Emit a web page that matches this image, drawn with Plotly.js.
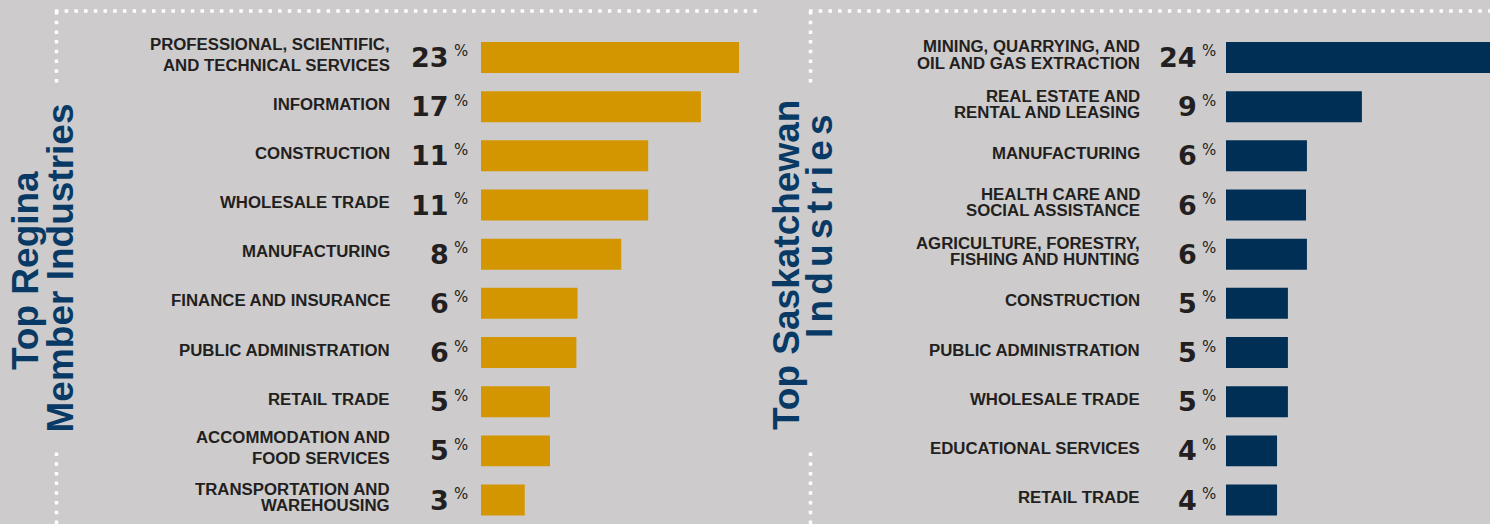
<!DOCTYPE html>
<html><head><meta charset="utf-8">
<script src="https://cdn.plot.ly/plotly-3.0.1.min.js"></script>
<style>html,body{margin:0;padding:0;background:#cdcbcc;overflow:hidden}#chart{width:1490px;height:524px;}</style>
</head><body><div id="chart"></div>
<script>
// ---------- DATA ----------
const reginaLabels = [
  "PROFESSIONAL, SCIENTIFIC,<br>AND TECHNICAL SERVICES",
  "INFORMATION",
  "CONSTRUCTION",
  "WHOLESALE TRADE",
  "MANUFACTURING",
  "FINANCE AND INSURANCE",
  "PUBLIC ADMINISTRATION",
  "RETAIL TRADE",
  "ACCOMMODATION AND<br>FOOD SERVICES",
  "TRANSPORTATION AND<br>WAREHOUSING"
];
const reginaPct = [23, 17, 11, 11, 8, 6, 6, 5, 5, 3];
// bar lengths as drawn in the picture (left-panel scale)
const reginaBar = [23, 19.6, 14.9, 14.9, 12.5, 8.6, 8.5, 6.15, 6.15, 3.9];

const saskLabels = [
  "MINING, QUARRYING, AND<br>OIL AND GAS EXTRACTION",
  "REAL ESTATE AND<br>RENTAL AND LEASING",
  "MANUFACTURING",
  "HEALTH CARE AND<br>SOCIAL ASSISTANCE",
  "AGRICULTURE, FORESTRY,<br>FISHING AND HUNTING",
  "CONSTRUCTION",
  "PUBLIC ADMINISTRATION",
  "WHOLESALE TRADE",
  "EDUCATIONAL SERVICES",
  "RETAIL TRADE"
];
const saskPct = [24, 9, 6, 6, 6, 5, 5, 5, 4, 4];
// bar lengths as drawn in the picture (right-panel scale)
const saskBar = [24, 9, 5.36, 5.3, 5.36, 4.1, 4.1, 4.1, 3.38, 3.38];

const reginaTitle = ["Top Regina", "Member Industries"];
const saskTitle = ["Top Saskatchewan", "Industries"];

// ---------- STYLE ----------
const W = 1490, H = 524;
const BG = "#cdcbcc", GOLD = "#d49600", NAVY = "#002f56", TITLE = "#083a65", TXT = "#231f20";
const LBL_FONT = "Liberation Sans, Arial, sans-serif";
const NUM_FONT = "DejaVu Sans, sans-serif";
const px = v => v / W;
const py = v => 1 - v / H;
const rowIdx = reginaLabels.map((_, i) => i);

const leftPitch = [21, 21, 21, 21, 21, 21, 21, 21, 21, 16.7];
const rightPitch = 16.3;

const traces = [
  {type: "bar", orientation: "h", y: rowIdx, x: reginaBar, xaxis: "x", yaxis: "y",
   marker: {color: GOLD}, width: 0.63, hoverinfo: "skip"},
  {type: "bar", orientation: "h", y: rowIdx, x: saskBar, xaxis: "x2", yaxis: "y2",
   marker: {color: NAVY}, width: 0.63, hoverinfo: "skip"}
];

const ann = [];
function labelAnn(labels, xr, pitchFn, yref) {
  labels.forEach((lab, i) => {
    const lines = lab.split("<br>");
    const p = pitchFn(i);
    lines.forEach((ln, k) => {
      const off = (k - (lines.length - 1) / 2) * p;
      ann.push({xref: "paper", yref: yref, x: px(xr), y: i, xanchor: "right", yanchor: "middle",
        text: "<b>" + ln + "</b>", showarrow: false, yshift: 2.5 - off,
        font: {family: LBL_FONT, size: 16.8, color: TXT}});
    });
  });
}
labelAnn(reginaLabels, 391.5, i => leftPitch[i], "y");
labelAnn(saskLabels, 1142, i => rightPitch, "y2");

function pctAnn(vals, xNum, xPct, yref) {
  vals.forEach((v, i) => {
    ann.push({xref: "paper", yref: yref, x: px(xNum), y: i, xanchor: "right", yanchor: "middle",
      text: "<b>" + v + "</b>", showarrow: false, yshift: 0,
      font: {family: NUM_FONT, size: 27, color: TXT}});
    ann.push({xref: "paper", yref: yref, x: px(xPct), y: i, xanchor: "left", yanchor: "middle",
      text: "%", showarrow: false, yshift: 6,
      font: {family: NUM_FONT, size: 15, color: TXT}});
  });
}
pctAnn(reginaPct, 450.5, 452, "y");
pctAnn(saskPct, 1199, 1200, "y2");

function titleAnn(text, cx, cy) {
  ann.push({xref: "paper", yref: "paper", x: px(cx), y: py(cy), xanchor: "center", yanchor: "middle",
    text: "<b>" + text + "</b>", showarrow: false, textangle: -90,
    font: {family: LBL_FONT, size: 37, color: TITLE}});
}
titleAnn(reginaTitle[0], 25, 271);
titleAnn(reginaTitle[1], 59.5, 268);
titleAnn(saskTitle[0], 786, 265);
titleAnn(saskTitle[1], 819, 224);

const dot = {color: "#ffffff", width: 3.5, dash: "3.5px,6.2px"};
const shapes = [
  {type: "line", xref: "paper", yref: "paper", x0: px(55), x1: px(762), y0: py(11), y1: py(11), line: dot},
  {type: "line", xref: "paper", yref: "paper", x0: px(56.5), x1: px(56.5), y0: py(11), y1: py(87), line: dot},
  {type: "line", xref: "paper", yref: "paper", x0: px(56.5), x1: px(56.5), y0: py(452.5), y1: py(526), line: dot},
  {type: "line", xref: "paper", yref: "paper", x0: px(809), x1: px(1492), y0: py(11), y1: py(11), line: dot},
  {type: "line", xref: "paper", yref: "paper", x0: px(810.5), x1: px(810.5), y0: py(11), y1: py(87), line: dot},
  {type: "line", xref: "paper", yref: "paper", x0: px(810.5), x1: px(810.5), y0: py(452.5), y1: py(526), line: dot}
];

const yRange = [9.487, -1.169];
const hidden = {visible: false, showgrid: false, zeroline: false, fixedrange: true};
const layout = {
  width: W, height: H, margin: {l: 0, r: 0, t: 0, b: 0, pad: 0},
  paper_bgcolor: BG, plot_bgcolor: "rgba(0,0,0,0)", showlegend: false,
  xaxis: Object.assign({}, hidden, {domain: [px(481), px(760)], range: [0, (760 - 481) / 11.22], anchor: "y"}),
  yaxis: Object.assign({}, hidden, {domain: [0, 1], range: yRange, anchor: "x"}),
  xaxis2: Object.assign({}, hidden, {domain: [px(1226), 1], range: [0, (1490 - 1226) / 15.1], anchor: "y2"}),
  yaxis2: Object.assign({}, hidden, {domain: [0, 1], range: yRange, anchor: "x2"}),
  annotations: ann, shapes: shapes
};
Plotly.newPlot("chart", traces, layout, {displayModeBar: false, staticPlot: true}).then(() => {
  // the right-hand title's second line is set with wide tracking in the original
  document.querySelectorAll("#chart .annotation-text").forEach(t => {
    if (t.textContent === saskTitle[1]) t.style.letterSpacing = "5.2px";
  });
});
</script></body></html>
